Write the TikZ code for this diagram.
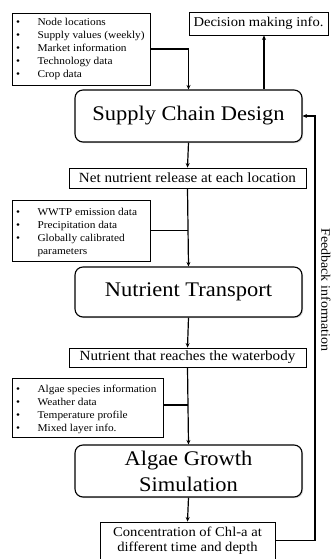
\documentclass[tikz,border=0pt]{standalone}
\usepackage{fontspec}
\setmainfont{Liberation Serif}[FakeStretch=1.08]
\usetikzlibrary{arrows.meta,shadows}
\begin{document}
\begin{tikzpicture}[x=1pt,y=-1pt,
  shade/.style={drop shadow={shadow xshift=1.2pt,shadow yshift=-1.2pt,fill=black!25,opacity=0.6}},
  databox/.style={draw,line width=0.9pt,fill=white,shade,inner sep=0pt,align=left},
  labelbox/.style={draw,line width=0.9pt,fill=white,shade,inner sep=0pt,align=center,font=\fontsize{14}{15}\selectfont},
  stage/.style={draw,line width=1.1pt,fill=white,shade,rounded corners=8pt,inner sep=0pt,align=center,font=\fontsize{20.8}{26}\selectfont},
  link/.style={line width=1.2pt},
  flow/.style={link,-{Stealth[length=4.5pt,width=4pt]}},
  bul/.style={font=\fontsize{10.5}{13}\selectfont}
]
\useasboundingbox (0,0) rectangle (331,559);

% input data boxes
\node[databox,minimum width=138pt,minimum height=72pt] (in1) at (81,49) {};
\node[databox,minimum width=138pt,minimum height=61pt] (in2) at (81,230.5) {};
\node[databox,minimum width=151pt,minimum height=59pt] (in3) at (87.5,407.5) {};

% bullet lists
\newcommand{\bitem}[3]{\node[bul,anchor=base] at (18,#1) {\textbullet};
  \node[bul,anchor=base west] (#2) at (34,#1) {#3};}
\bitem{26}{b11}{Node locations}
\bitem{39}{b12}{Supply values (weekly)}
\bitem{52}{b13}{Market information}
\bitem{65}{b14}{Technology data}
\bitem{78}{b15}{Crop data}
\bitem{215}{b21}{WWTP emission data}
\bitem{228}{b22}{Precipitation data}
\bitem{241}{b23}{Globally calibrated}
\node[bul,anchor=base west] (b24) at (34,254) {parameters};
\bitem{392}{b31}{Algae species information}
\bitem{405}{b32}{Weather data}
\bitem{418}{b33}{Temperature profile}
\bitem{431}{b34}{Mixed layer info.}

% decision output
\node[labelbox,minimum width=139pt,minimum height=23pt,font=\fontsize{13.5}{15}\selectfont] (dec) at (258.5,23.5) {Decision making info.};

% model stages
\node[stage,minimum width=227pt,minimum height=52pt] (scd) at (188.5,116) {Supply Chain Design};
\node[labelbox,minimum width=237pt,minimum height=20pt] (net) at (187.5,178) {Net nutrient release at each location};
\node[stage,minimum width=227pt,minimum height=50pt] (nt) at (188.5,292) {Nutrient Transport};
\node[labelbox,minimum width=237pt,minimum height=19pt] (reach) at (187.5,357.5) {Nutrient that reaches the waterbody};
\node[stage,minimum width=227pt,minimum height=52pt] (alg) at (188.5,471) {Algae Growth\\Simulation};
\node[labelbox,minimum width=175pt,minimum height=37pt,font=\fontsize{13.5}{14.5}\selectfont] (conc) at (187.5,540.5) {Concentration of Chl-a at\\different time and depth};

% main flow
\draw[flow] (in1.east) -| (scd.north);
\draw[flow] ([xshift=75.5pt]scd.north) -- ([xshift=75.5pt]scd.north |- dec.south);
\draw[flow] (scd.south) -- (net.north);
\draw[link] (in2.east) -- (in2.east -| net.south);
\draw[flow] (net.south) -- (nt.north);
\draw[flow] (nt.south) -- (reach.north);
\draw[link] ([yshift=2.5pt]in3.east) -- ([yshift=2.5pt]in3.east -| reach.south);
\draw[flow] (reach.south) -- (alg.north);
\draw[flow] (alg.south) -- (conc.north);

% feedback loop
\coordinate (fb) at (315,540.5);
\draw[flow] (conc.east) -- (fb) -- (fb |- scd.east) -- (scd.east);
\node[rotate=-90,font=\fontsize{13}{15}\selectfont] (fbl) at (326,290) {Feedback information};
\end{tikzpicture}
\end{document}
